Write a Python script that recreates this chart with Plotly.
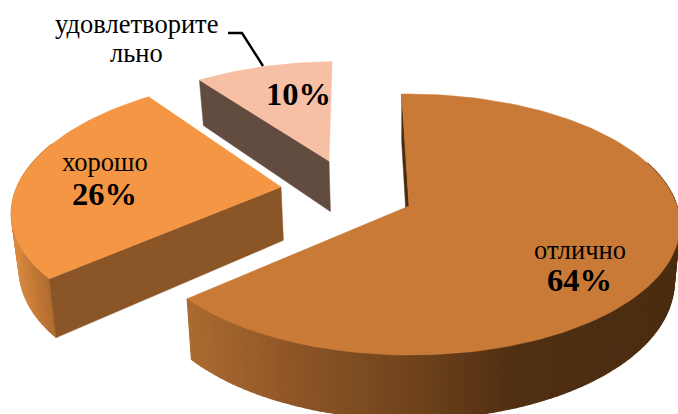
import math
import plotly.graph_objects as go

# --- data ---
categories = ["отлично", "хорошо", "удовлетворительно"]
values = [64, 26, 10]
label_lines = [["отлично"], ["хорошо"], ["удовлетворите", "льно"]]

# --- styling / projection parameters ---
W, H = 678, 414
ROTATION = -1.5
RY, K, VX, DEPTH, CONVERGE = 130.5, 0.142, 400, 55, 0.02
apex = [(409, 206), (281, 187), (329, 161)]
radius_x = [268, 264, 250]
radius_y = [0.98, 0.97, 0.87]
depth_scale = [1.0, 0.97, 0.92]
top_color = ["#C97A36", "#F49644", "#F7BFA4"]
face_color = ["#4A2C10", "#8A5527", "#624C40"]
side_stops = [
    [(185, "#AC6C31"), (300, "#8C5426"), (420, "#6E421B"), (510, "#502F12"), (678, "#4A2C10")],
    [(10, "#DF8C42"), (30, "#C97D39"), (60, "#A5642C")],
    [(190, "#624C40"), (340, "#624C40")],
]


def project(i, theta_deg, r=1.0, down=False):
    t = math.radians(theta_deg)
    u, v = r * math.sin(t), r * math.cos(t)
    p = 1 / (1 + K * v)
    ax, ay = apex[i]
    x = ax + radius_x[i] * u * p + (ax - VX) * (p - 1)
    y = ay - RY * radius_y[i] * v * p
    if down:
        x += (VX - x) * CONVERGE
        y += DEPTH * depth_scale[i] * p
    return x, y


def hex_rgb(c):
    return tuple(int(c[j:j + 2], 16) for j in (1, 3, 5))


def gradient(stops, x):
    if x <= stops[0][0]:
        return stops[0][1]
    for (x0, c0), (x1, c1) in zip(stops, stops[1:]):
        if x <= x1:
            f = (x - x0) / (x1 - x0)
            a, b = hex_rgb(c0), hex_rgb(c1)
            return "#%02X%02X%02X" % tuple(round(a[n] + (b[n] - a[n]) * f) for n in range(3))
    return stops[-1][1]


fig = go.Figure()


def poly(points, color, width=1.2):
    xs = [q[0] for q in points] + [points[0][0]]
    ys = [q[1] for q in points] + [points[0][1]]
    fig.add_trace(go.Scatter(x=xs, y=ys, mode="lines", fill="toself", fillcolor=color,
                             line=dict(color=color, width=width), hoverinfo="skip", showlegend=False))


total = sum(values)
spans = []
start = ROTATION
for val in values:
    end = start + 360 * val / total
    spans.append((start, end))
    start = end

for i in (2, 1, 0):
    a0, a1 = spans[i]
    steps = max(12, int((a1 - a0) / 1.5))
    angles = [a0 + (a1 - a0) * s / steps for s in range(steps + 1)]
    # outer wall, split into strips for the shading
    for b0, b1 in zip(angles, angles[1:]):
        if math.cos(math.radians((b0 + b1) / 2)) > 0.35:
            continue
        pts = [project(i, b0), project(i, b1), project(i, b1, down=True), project(i, b0, down=True)]
        poly(pts, gradient(side_stops[i], sum(q[0] for q in pts) / 4))
    # radial wall facing the viewer
    poly([project(i, a0), project(i, a0, 0), project(i, a0, 0, True), project(i, a0, down=True)],
         face_color[i], 0.5)
    # top surface
    poly([project(i, a0, 0)] + [project(i, a) for a in angles], top_color[i], 0.5)

# leader line of the small slice
fig.add_trace(go.Scatter(x=[228, 242, 263], y=[33, 33, 66], mode="lines",
                         line=dict(color="black", width=2.4), hoverinfo="skip", showlegend=False))

SERIF = "Liberation Serif"
label_pos = [[(580, 250)], [(105, 162)], [(136, 24), (136, 53)]]
pct_pos = [(579, 280), (104, 194), (298, 94)]
for i in range(3):
    for line, (lx, ly) in zip(label_lines[i], label_pos[i]):
        fig.add_annotation(x=lx, y=ly, text=line, showarrow=False,
                           font=dict(family=SERIF, size=26.5, color="black"))
    px, py = pct_pos[i]
    fig.add_annotation(x=px, y=py, text=f"<b>{values[i]}%</b>", showarrow=False,
                       font=dict(family=SERIF, size=32.5, color="black"))

fig.update_layout(
    width=W, height=H, margin=dict(l=0, r=0, t=0, b=0), autosize=False,
    paper_bgcolor="white", plot_bgcolor="white", showlegend=False,
    xaxis=dict(range=[0, W], visible=False, fixedrange=True),
    yaxis=dict(range=[H, 0], visible=False, fixedrange=True),
)
fig.write_html("out.html", config={"displayModeBar": False},
               post_script="document.body.style.margin='0';document.body.style.overflow='hidden';")
